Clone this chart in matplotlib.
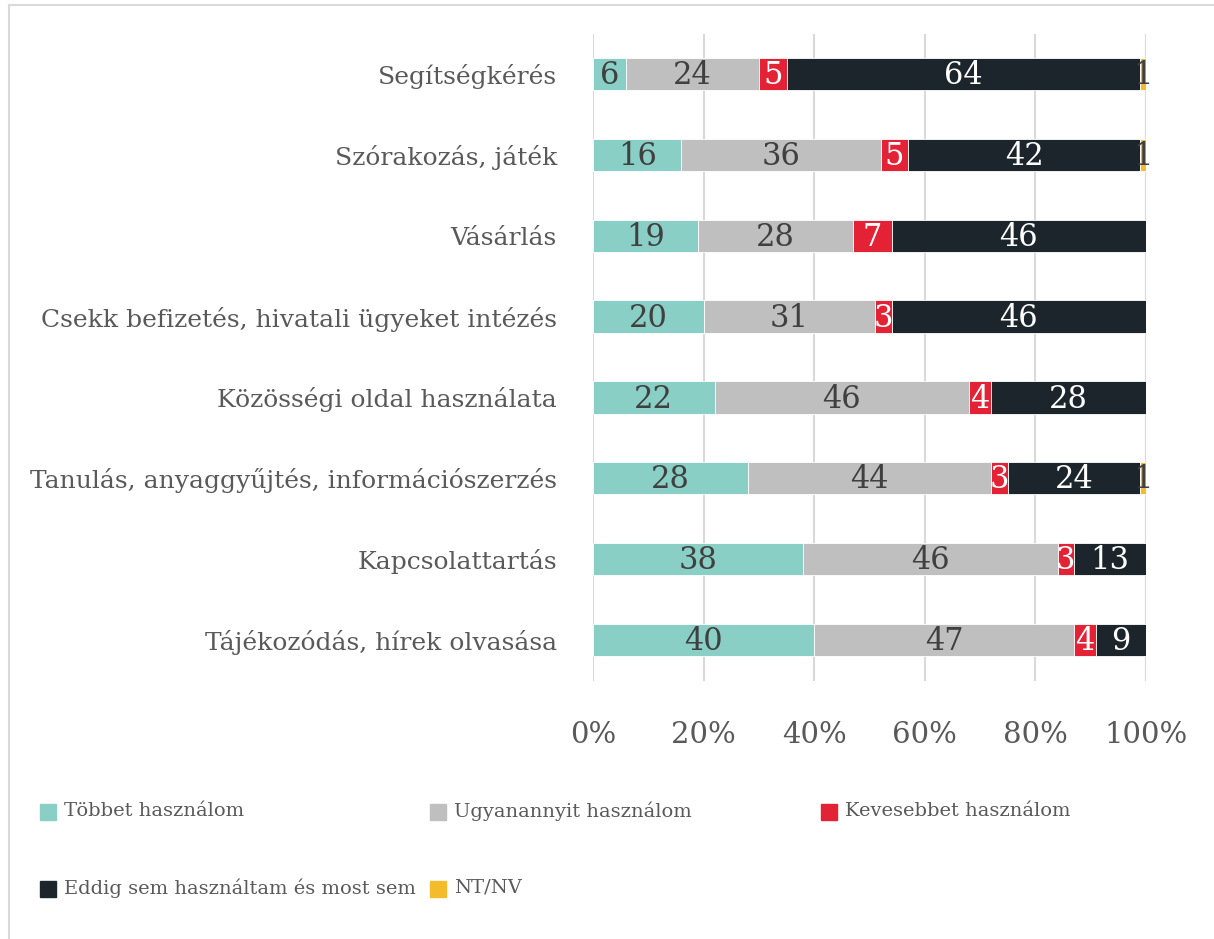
import numpy as np
import matplotlib
matplotlib.use("Agg")
import matplotlib.pyplot as plt
from matplotlib.patches import Rectangle
from matplotlib.lines import Line2D

# ── Data ─────────────────────────────────────────────
categories = [
    "Segítségkérés",
    "Szórakozás, játék",
    "Vásárlás",
    "Csekk befizetés, hivatali ügyeket intézés",
    "Közösségi oldal használata",
    "Tanulás, anyaggyűjtés, információszerzés",
    "Kapcsolattartás",
    "Tájékozódás, hírek olvasása",
]
series_names = [
    "Többet használom",
    "Ugyanannyit használom",
    "Kevesebbet használom",
    "Eddig sem használtam és most sem",
    "NT/NV",
]
tobbet = [6, 16, 19, 20, 22, 28, 38, 40]
ugyanannyit = [24, 36, 28, 31, 46, 44, 46, 47]
kevesebbet = [5, 5, 7, 3, 4, 3, 3, 4]
eddig_sem = [64, 42, 46, 46, 28, 24, 13, 9]
nt_nv = [1, 1, 0, 0, 0, 1, 0, 0]
x_ticks = [0, 20, 40, 60, 80, 100]

colors = ["#8ACFC6", "#BFBFBF", "#E42236", "#1C252C", "#F2BC2D"]
label_colors = ["#404040", "#404040", "white", "white", "#404040"]

plt.rcParams["font.family"] = ["DejaVu Serif"]

fig = plt.figure(figsize=(12.14, 9.39), dpi=100)
ax = fig.add_axes([593 / 1214, 1 - 680.5 / 939, 553 / 1214, 647 / 939])

y = np.arange(len(categories))
left = np.zeros(len(categories))
for name, vals, col, tcol in zip(series_names,
                                 [tobbet, ugyanannyit, kevesebbet, eddig_sem, nt_nv],
                                 colors, label_colors):
    vals = np.array(vals, dtype=float)
    bars = ax.barh(y, vals, left=left, height=0.4, color=col,
                   edgecolor="white", linewidth=0.6, zorder=3, label=name)
    for b, v in zip(bars, vals):
        if v > 0:
            ax.text(b.get_x() + b.get_width() / 2, b.get_y() + b.get_height() / 2 + 0.02,
                    f"{int(v)}", ha="center", va="center", fontsize=22,
                    color=tcol, zorder=4)
    left += vals

ax.set_xlim(0, 100)
ax.set_ylim(len(categories) - 0.5, -0.5)
ax.set_yticks(y)
ax.set_yticklabels(categories, fontsize=18, color="#595959")
for lbl in ax.get_yticklabels():
    lbl.set_verticalalignment("center_baseline")
ax.set_xticks(x_ticks)
ax.set_xticklabels([f"{t}%" for t in x_ticks], fontsize=21, color="#595959")
ax.tick_params(axis="both", length=0)
ax.tick_params(axis="x", pad=29)
ax.tick_params(axis="y", pad=26)
ax.grid(axis="x", color="#D9D9D9", linewidth=1.5, zorder=0)
for s in ax.spines.values():
    s.set_visible(False)

# ── Legend (row-wise, fixed columns) ─────────────────
leg_pos = [(40, 812), (430, 812), (821, 812), (40, 889), (430, 889)]
W, H = 1214, 939
for (px, py), name, col in zip(leg_pos, series_names, colors):
    fig.add_artist(Rectangle((px / W, 1 - (py + 8) / H), 16 / W, 16 / H,
                             transform=fig.transFigure, color=col))
    fig.text((px + 24) / W, 1 - (py - 1) / H, name, fontsize=14,
             color="#595959", va="center", ha="left")

# ── Chart frame (top and left edges) ─────────────────
fig.add_artist(Line2D([9 / W, 1], [1 - 5 / H, 1 - 5 / H],
                      transform=fig.transFigure, color="#D9D9D9", linewidth=1.5))
fig.add_artist(Line2D([9 / W, 9 / W], [0, 1 - 5 / H],
                      transform=fig.transFigure, color="#D9D9D9", linewidth=1.5))

fig.savefig("out.png", dpi=100)
